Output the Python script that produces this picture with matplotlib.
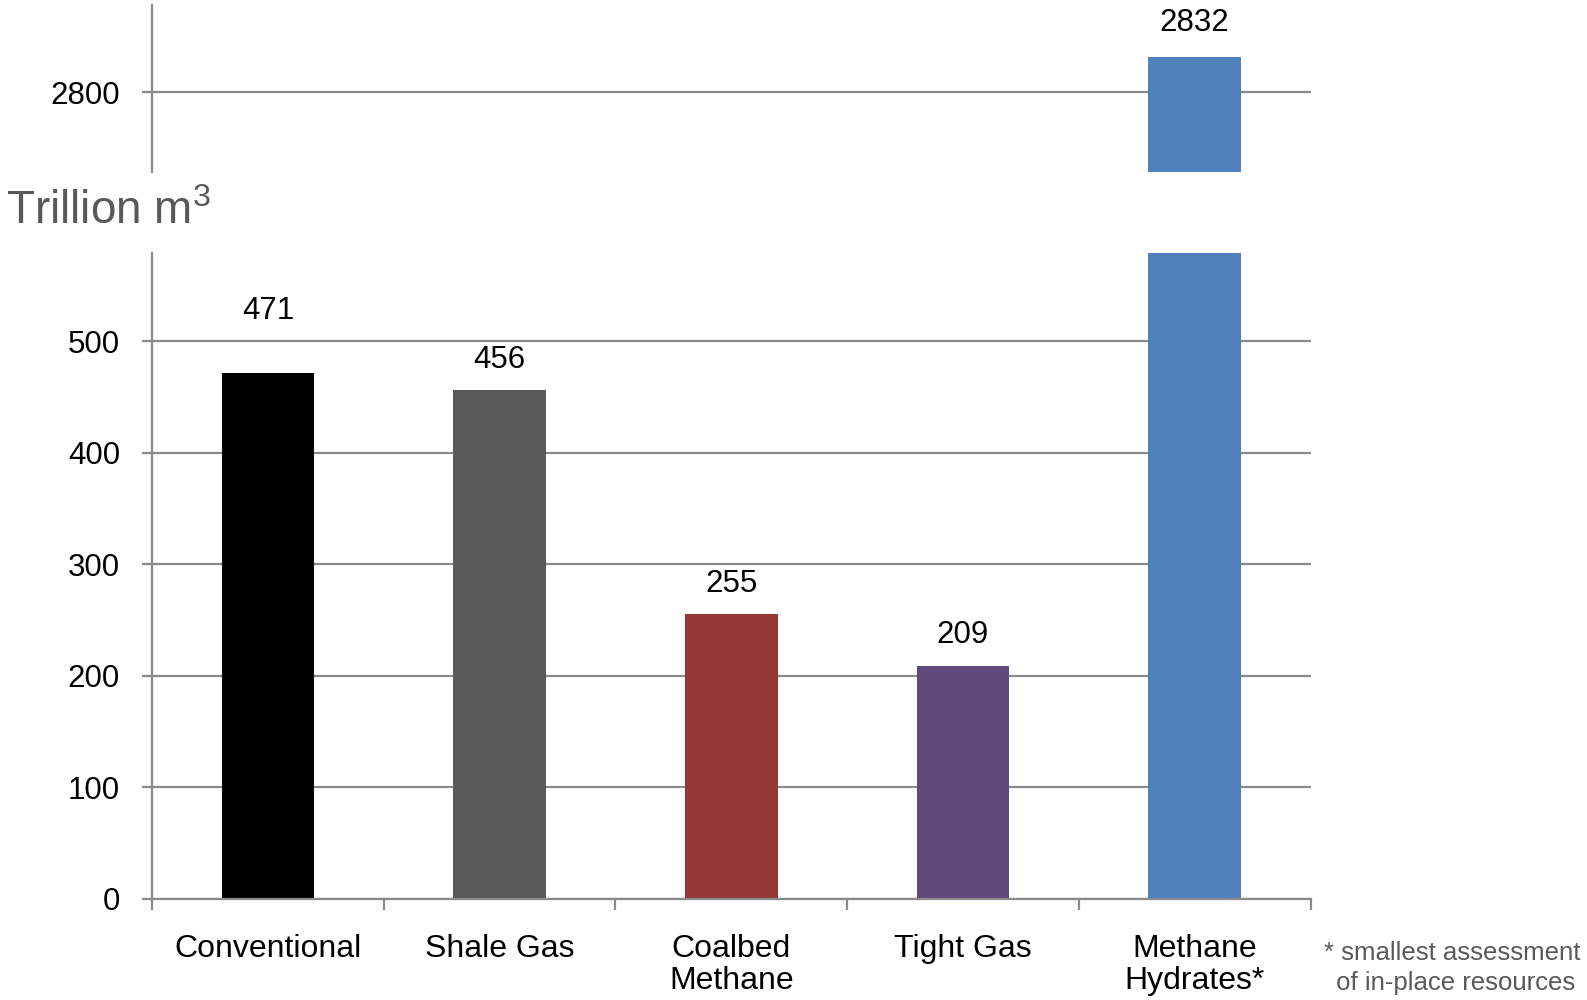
import numpy as np
import matplotlib
matplotlib.use("Agg")
import matplotlib.pyplot as plt
from matplotlib.ticker import FixedLocator

plt.rcParams['font.family'] = ['Liberation Sans', 'DejaVu Sans']
plt.rcParams['mathtext.fontset'] = 'custom'
plt.rcParams['mathtext.rm'] = 'Liberation Sans'

categories = ['Conventional', 'Shale Gas', 'Coalbed\nMethane', 'Tight Gas', 'Methane\nHydrates*']
values = [471, 456, 255, 209, 2832]
colors = ['#000000', '#595959', '#943634', '#604A7B', '#4F81BD']
low_ticks = [0, 100, 200, 300, 400, 500]
high_ticks = [2800]

grid_c = '#8a8a8a'
x = np.arange(len(categories))

fig = plt.figure(figsize=(15.87, 10), dpi=100)
ax_hi = fig.add_axes([0.0958, 0.828, 0.730, 0.167])
ax_lo = fig.add_axes([0.0958, 0.101, 0.730, 0.646])

for ax, lo, hi, ticks in [(ax_lo, 0, 579, low_ticks), (ax_hi, 2727, 2880, high_ticks)]:
    ax.set_xlim(-0.5, len(categories) - 0.5)
    ax.set_ylim(lo, hi)
    ax.set_axisbelow(True)
    ax.set_yticks(ticks)
    ax.yaxis.grid(True, color=grid_c, linewidth=1.6)
    for s in ['top', 'right']:
        ax.spines[s].set_visible(False)
    ax.spines['left'].set_color(grid_c)
    ax.spines['left'].set_linewidth(1.6)
    ax.tick_params(axis='y', length=7, width=1.6, color=grid_c, pad=16, labelsize=22.5)
    ax.bar(x, values, width=0.4, color=colors, edgecolor='none')

# top panel: no x axis
ax_hi.spines['bottom'].set_visible(False)
ax_hi.set_xticks([])

# bottom panel: ticks between categories, labels under bars
ax_lo.spines['bottom'].set_color(grid_c)
ax_lo.spines['bottom'].set_linewidth(1.6)
ax_lo.xaxis.set_major_locator(FixedLocator(np.arange(len(categories) + 1) - 0.5))
ax_lo.xaxis.set_minor_locator(FixedLocator(x))
ax_lo.xaxis.set_major_formatter(plt.NullFormatter())
ax_lo.set_xticklabels(categories, minor=True, fontsize=23, linespacing=1.12, va='top')
ax_lo.tick_params(axis='x', which='major', length=8, width=1.6, color=grid_c)
ax_lo.tick_params(axis='x', which='minor', length=0, pad=25)

# value labels
for i, v in enumerate(values):
    if v > 579:
        ax_hi.annotate(str(v), (i, v), xytext=(0, 25), textcoords='offset points',
                       ha='center', va='center', fontsize=22.5)
    else:
        off = 45 if i == 0 else 22
        ax_lo.annotate(str(v), (i, v), xytext=(0, off), textcoords='offset points',
                       ha='center', va='center', fontsize=22.5)

fig.text(0.004, 0.788, r'Trillion m$^\mathregular{3}$', fontsize=33, color='#595959',
         va='center', ha='left')
fig.text(0.915, 0.032, '* smallest assessment\n of in-place resources', fontsize=18.5,
         color='#595959', ha='center', va='center', linespacing=1.3)

fig.savefig('out.png', dpi=100)
